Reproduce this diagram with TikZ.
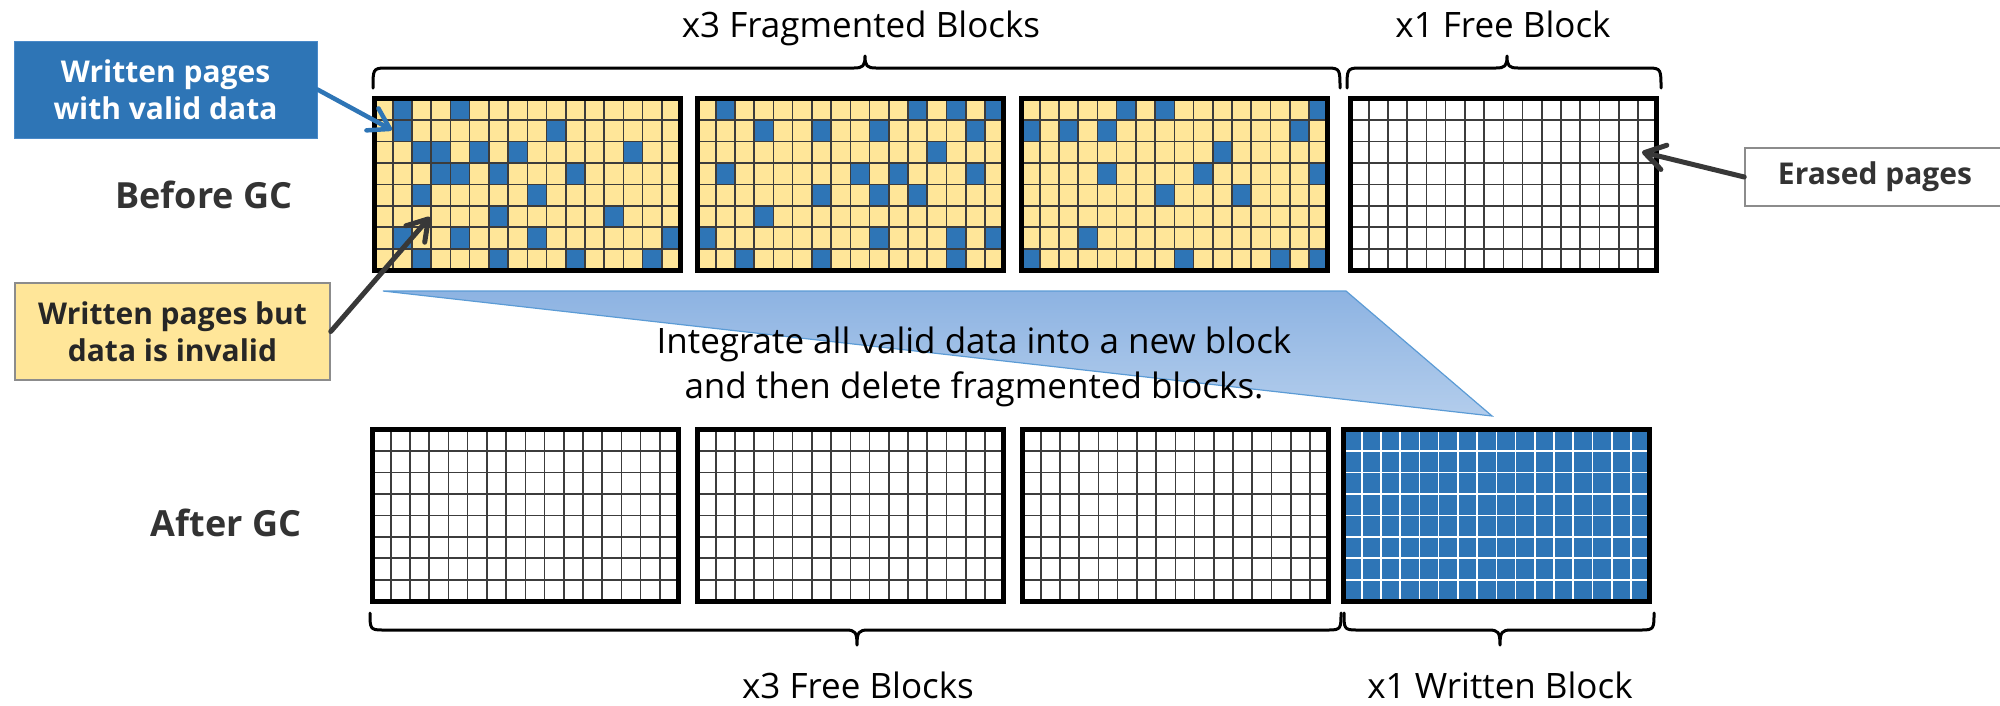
\documentclass[tikz,border=0pt]{standalone}
\usepackage{fontspec}
\setmainfont{Open Sans}
\usetikzlibrary{arrows.meta}
\definecolor{cellblue}{HTML}{2E75B6}
\definecolor{cellyellow}{HTML}{FFE699}
\definecolor{gridgray}{HTML}{3C3C3C}
\definecolor{darkarrow}{HTML}{383838}
\definecolor{txtgray}{HTML}{333333}
\definecolor{txtdark}{HTML}{262626}
\definecolor{boxgray}{HTML}{8C8C8C}
\definecolor{boxblueedge}{HTML}{4A89C8}
\definecolor{triTop}{HTML}{8DB3E2}
\definecolor{triBot}{HTML}{B3CDEC}
\definecolor{triEdge}{HTML}{5B9BD5}

\newcommand{\gcfill}[3]{\fill[#3] (#1+5,#2+5) rectangle (#1+306,#2+172);}
\newcommand{\gccells}[3]{%
  \foreach \cc/\rr in {#3}{%
    \pgfmathsetmacro{\xa}{#1+5+max(0,15.7+19.23*(\cc-1))}%
    \pgfmathsetmacro{\xb}{#1+5+min(301,15.7+19.23*\cc)}%
    \pgfmathsetmacro{\ya}{#2+5+max(0,19+21.45*(\rr-1))}%
    \pgfmathsetmacro{\yb}{#2+5+min(167,19+21.45*\rr)}%
    \fill[cellblue] (\xa,\ya) rectangle (\xb,\yb);
  }%
}
\newcommand{\gclines}[3]{%
  \foreach \kk in {0,...,14}{\draw[#3,line width=1.6] ({#1+20.7+19.23*\kk},#2+5) -- ++(0,167);}%
  \foreach \kk in {0,...,6}{\draw[#3,line width=1.6] (#1+5,{#2+24+21.45*\kk}) -- ++(301,0);}%
}
\newcommand{\gcborder}[2]{\draw[line width=5] (#1+2.5,#2+2.5) rectangle (#1+308.5,#2+174.5);}
% brace with tip up: x1, x2, xm
\newcommand{\gcbraceup}[3]{%
  \draw[bracestyle] (#1,88) .. controls (#1,70) and (#1,68) .. (#1+12,68) -- (#3-11,68) .. controls (#3-2,68) and (#3,66) .. (#3,56)
    .. controls (#3,66) and (#3+2,68) .. (#3+11,68) -- (#2-12,68) .. controls (#2,68) and (#2,70) .. (#2,88);}
\newcommand{\gcbracedown}[3]{%
  \draw[bracestyle] (#1,613) .. controls (#1,628) and (#1,630) .. (#1+12,630) -- (#3-11,630) .. controls (#3-2,630) and (#3,632) .. (#3,645)
    .. controls (#3,632) and (#3+2,630) .. (#3+11,630) -- (#2-12,630) .. controls (#2,630) and (#2,628) .. (#2,613);}

\tikzset{
  bracestyle/.style={line width=3, line cap=round, line join=round},
  lbl/.style={font=\fontsize{35}{42}\selectfont, text=black, inner sep=0pt, anchor=base},
  gclbl/.style={font=\fontsize{36}{42}\selectfont\bfseries, text=txtgray, inner sep=0pt, anchor=base},
  tagbox/.style={font=\fontsize{30}{37}\selectfont\bfseries, align=center, inner sep=0pt, minimum height=97},
  barb/.style={-{Straight Barb[length=20pt,width=25pt,round]}, line cap=round},
}

\begin{document}
\begin{tikzpicture}[x=1pt,y=-1pt]
\useasboundingbox (0,0) rectangle (2000,705);

% ---------- triangle ----------
\path[draw=triEdge, line width=1.2, top color=triTop, bottom color=triBot]
  (383,291) -- (1346,291) -- (1492,416) -- cycle;

% ---------- top blocks ----------
\gcfill{372}{96}{cellyellow}
\gccells{372}{96}{1/0,4/0, 1/1,9/1, 2/2,3/2,5/2,7/2,13/2, 3/3,4/3,6/3,10/3, 2/4,8/4, 6/5,12/5, 1/6,4/6,8/6,15/6, 2/7,6/7,10/7,14/7}
\gclines{372}{96}{gridgray}
\gcborder{372}{96}

\gcfill{695}{96}{cellyellow}
\gccells{695}{96}{1/0,11/0,13/0,15/0, 3/1,6/1,9/1,14/1, 12/2, 1/3,8/3,10/3,14/3, 6/4,9/4,11/4, 3/5, 0/6,9/6,13/6,15/6, 2/7,6/7,13/7}
\gclines{695}{96}{gridgray}
\gcborder{695}{96}

\gcfill{1019}{96}{cellyellow}
\gccells{1019}{96}{5/0,7/0,15/0, 0/1,2/1,4/1,14/1, 10/2, 4/3,9/3,15/3, 7/4,11/4, 3/6, 0/7,8/7,13/7,15/7}
\gclines{1019}{96}{gridgray}
\gcborder{1019}{96}

\gcfill{1348}{96}{white}
\gclines{1348}{96}{gridgray}
\gcborder{1348}{96}

% ---------- bottom blocks ----------
\gcfill{370}{427}{white}
\gclines{370}{427}{gridgray}
\gcborder{370}{427}

\gcfill{695}{427}{white}
\gclines{695}{427}{gridgray}
\gcborder{695}{427}

\gcfill{1020}{427}{white}
\gclines{1020}{427}{gridgray}
\gcborder{1020}{427}

\gcfill{1341}{427}{cellblue}
\gclines{1341}{427}{white}
\gcborder{1341}{427}

% ---------- braces ----------
\gcbraceup{373}{1340}{865}
\gcbraceup{1347}{1661}{1507}
\gcbracedown{370}{1341}{857}
\gcbracedown{1344}{1654}{1500}

% ---------- labels ----------
\node[lbl] (fraglbl) at (861,37) {x3 Fragmented Blocks};
\node[lbl] (freelbl) at (1503,37) {x1 Free Block};
\node[lbl] (freeslbl) at (858,698) {x3 Free Blocks};
\node[lbl] (writtenlbl) at (1500,698) {x1 Written Block};
\node[gclbl] (beforelbl) at (204,208) {Before GC};
\node[gclbl] (afterlbl) at (226,536) {After GC};

\node[font=\fontsize{35}{45}\selectfont, align=center, inner sep=0pt] (integ) at (974,367)
  {Integrate all valid data into a new block\\and then delete fragmented blocks.};

% ---------- callout boxes ----------
\node[tagbox, minimum width=303, fill=cellblue, draw=boxblueedge, line width=1, text=white]
  (validbox) at (165.5,89.5) {Written pages\\with valid data};
\node[tagbox, minimum width=315, fill=cellyellow, draw=boxgray, line width=1.5, text=txtdark]
  (invalidbox) at (172.5,331.5) {Written pages but\\data is invalid};
\node[draw=boxgray, line width=1.5, fill=white, minimum width=260, minimum height=58, inner sep=0pt,
  font=\fontsize{30}{37}\selectfont\bfseries, text=txtgray] (erasedbox) at (1875,177) {Erased pages};

% ---------- arrows ----------
\coordinate (validtip) at (392,130);
\coordinate (invalidtip) at (430,217);
\coordinate (erasedtip) at (1642,152);
\draw[barb, cellblue, line width=4.5] (validbox.east) -- (validtip);
\draw[barb, darkarrow, line width=5] (invalidbox.east) -- (invalidtip);
\draw[barb, darkarrow, line width=5] (erasedbox.west) -- (erasedtip);
\end{tikzpicture}
\end{document}
